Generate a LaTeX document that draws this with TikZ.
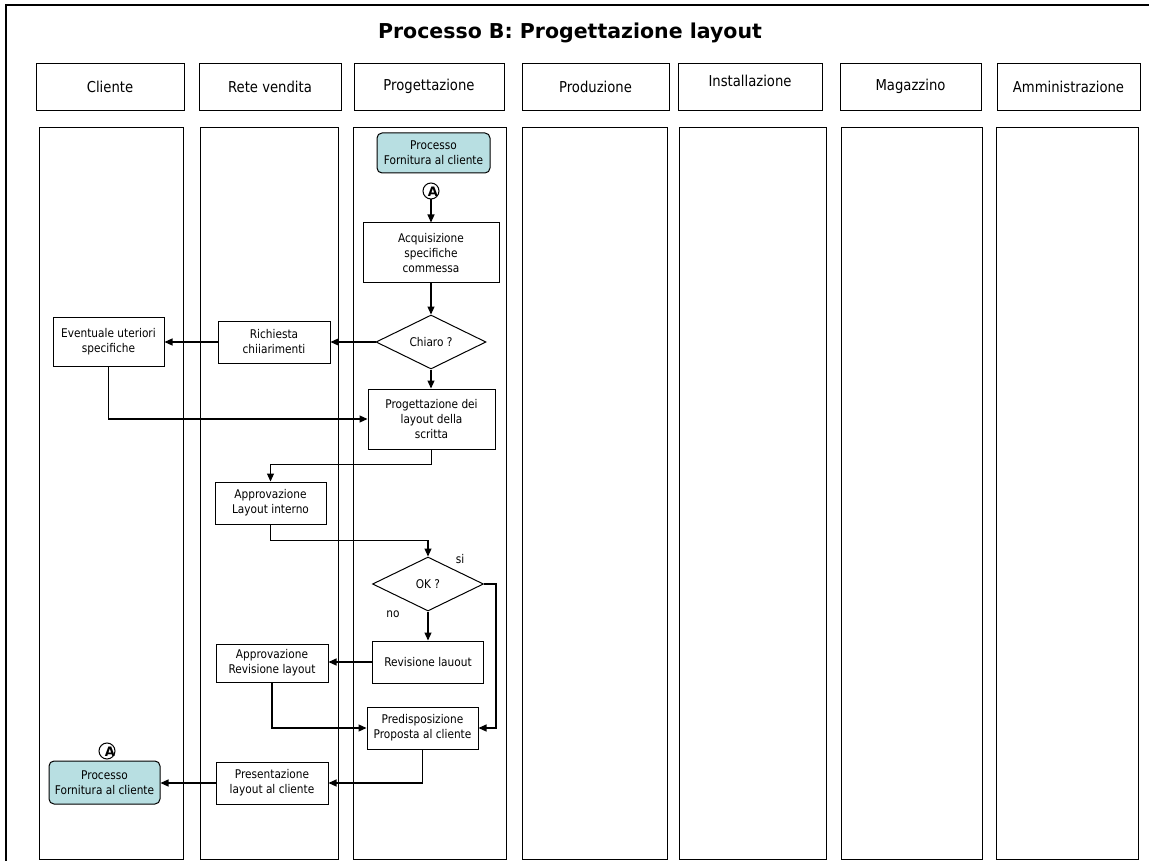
\documentclass[tikz,border=0pt]{standalone}
\usepackage{fontspec}
\setmainfont{DejaVu Sans}[FakeStretch=0.88]
\newfontfamily\titlefont{DejaVu Sans}
\usetikzlibrary{arrows.meta,shapes.geometric}
\definecolor{procfill}{RGB}{184,223,226}
\begin{document}
\begin{tikzpicture}[x=1pt,y=-1pt,
  hdr/.style={draw=black, line width=0.9pt, inner sep=0pt, font=\fontsize{15}{18}\selectfont},
  lane/.style={draw=black, line width=0.9pt, inner sep=0pt},
  box/.style={draw=black, line width=1pt, inner sep=0pt, align=center, font=\fontsize{12}{15}\selectfont},
  proc/.style={box, rounded corners=5pt, fill=procfill},
  dec/.style={draw=black, line width=1pt, diamond, inner sep=0pt, font=\fontsize{12}{15}\selectfont},
  conn/.style={draw=black, line width=1pt, circle, inner sep=0pt, minimum size=16pt},
  conntext/.style={font=\titlefont\bfseries\fontsize{13}{15}\selectfont, inner sep=0pt},
  lbl/.style={font=\fontsize{12}{14}\selectfont, inner sep=0pt},
  arr/.style={line width=1.1pt, -{Triangle[length=8pt,width=7pt]}}
]
\useasboundingbox (0,0) rectangle (1149,861);
\fill[white] (0,0) rectangle (1149,861);
% outer frame (cut by the page at right and bottom)
\draw[line width=1.5pt] (6,5) rectangle (1156,868);
\node[font=\titlefont\bfseries\fontsize{20.5}{24}\selectfont, inner sep=0pt] (title) at (570,33) {Processo B: Progettazione layout};

% headers
\node[hdr, minimum width=148, minimum height=47] (hCli) at (110,86.5) {Cliente};
\node[hdr, minimum width=142, minimum height=47] (hRete) at (270,86.5) {Rete vendita};
\node[hdr, minimum width=150, minimum height=47] (hProg) at (429,86.5) {Progettazione};
\node[hdr, minimum width=147, minimum height=47] (hProd) at (595.5,86.5) {Produzione};
\node[hdr, minimum width=144, minimum height=47] (hInst) at (750,86.5) {};
\node[lbl, font=\fontsize{15}{18}\selectfont] (hInstT) at (750,81) {Installazione};
\node[hdr, minimum width=141, minimum height=47] (hMag) at (910.5,86.5) {Magazzino};
\node[hdr, minimum width=143, minimum height=47] (hAmm) at (1068.5,86.5) {Amministrazione};

% lanes
\node[lane, minimum width=144, minimum height=732] (lCli) at (111,493) {};
\node[lane, minimum width=138, minimum height=732] (lRete) at (269,493) {};
\node[lane, minimum width=153, minimum height=732] (lProg) at (429.5,493) {};
\node[lane, minimum width=145, minimum height=732] (lProd) at (594.5,493) {};
\node[lane, minimum width=147, minimum height=732] (lInst) at (752.5,493) {};
\node[lane, minimum width=141, minimum height=732] (lMag) at (911.5,493) {};
\node[lane, minimum width=142, minimum height=732] (lAmm) at (1067,493) {};

% flow nodes
\node[proc, minimum width=113, minimum height=40] (start) at (433.5,153) {Processo\\Fornitura al cliente};
\node[conn] (A1) at (431,191) {};
\node[conntext] (A1t) at (433,192) {A};
\node[box, minimum width=136, minimum height=60] (acq) at (431,253) {Acquisizione\\specifiche\\commessa};
\node[dec, minimum width=110, minimum height=54] (chiaro) at (431,342) {Chiaro ?};
\node[box, minimum width=112, minimum height=42] (rich) at (274,342) {Richiesta\\chiiarimenti};
\node[box, minimum width=111, minimum height=49] (event) at (108.5,341.5) {Eventuale uteriori\\specifiche};
\node[box, minimum width=127, minimum height=60] (proglay) at (431.5,419) {Progettazione dei\\layout della\\scritta};
\node[box, minimum width=111, minimum height=42] (applay) at (270.5,503) {Approvazione\\Layout interno};
\node[dec, minimum width=111, minimum height=54] (okd) at (428,584) {OK ?};
\node[lbl] (si) at (460,559) {si};
\node[lbl] (no) at (393,614) {no};
\node[box, minimum width=111, minimum height=42] (revis) at (428,662) {Revisione lauout};
\node[box, minimum width=112, minimum height=38] (apprev) at (272,663) {Approvazione\\Revisione layout};
\node[box, minimum width=111, minimum height=42] (predis) at (422.5,728) {Predisposizione\\Proposta al cliente};
\node[box, minimum width=112, minimum height=42] (present) at (272,783) {Presentazione\\layout al cliente};
\node[proc, minimum width=111, minimum height=43] (endn) at (104.5,782.5) {Processo\\Fornitura al cliente};
\node[conn] (A2) at (107,751) {};
\node[conntext] (A2t) at (110,752) {A};

% connectors
\draw[arr] (A1.south) -- (A1.south |- acq.north);
\draw[arr] (acq.south) -- (acq.south |- chiaro.north);
\draw[arr] (chiaro.west) -- (chiaro.west -| rich.east);
\draw[arr] (rich.west) -- (rich.west -| event.east);
\draw[arr] (event.south) |- (proglay.west);
\draw[arr] (chiaro.south) -- (chiaro.south |- proglay.north);
\draw[arr] (proglay.south) -- ++(0,15) -| (applay.north);
\draw[arr] (applay.south) -- ++(0,16) -| (okd.north);
\draw[arr] (okd.east) -- ++(12,0) |- (predis.east);
\draw[arr] (okd.south) -- (okd.south |- revis.north);
\draw[arr] (revis.west) -- (revis.west -| apprev.east);
\draw[arr] (apprev.south) |- (predis.west);
\draw[arr] (predis.south) |- (present.east);
\draw[arr] (present.west) -- (present.west -| endn.east);
\end{tikzpicture}
\end{document}
